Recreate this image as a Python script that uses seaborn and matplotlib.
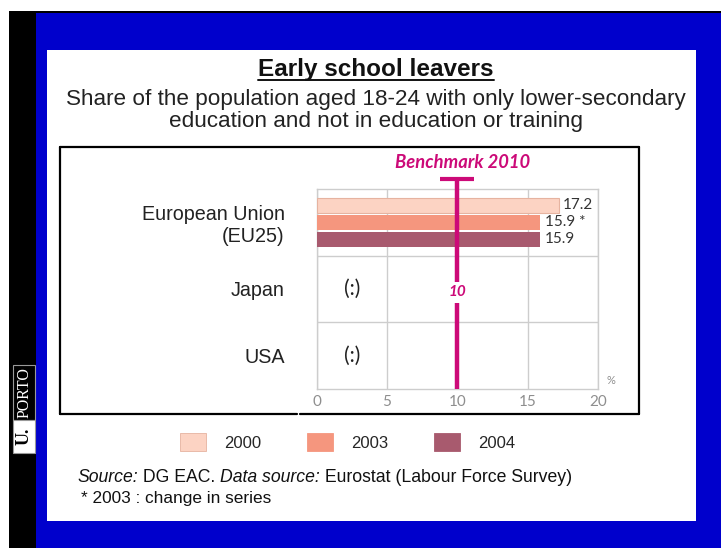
import numpy as np
import pandas as pd
import matplotlib
matplotlib.use("Agg")
import matplotlib.pyplot as plt
from matplotlib.patches import Rectangle, Patch
from matplotlib.lines import Line2D
import seaborn as sns

# ---- data -------------------------------------------------------------
regions = ["European Union\n(EU25)", "Japan", "USA"]
years = ["2000", "2003", "2004"]
eu_values = [17.2, 15.9, 15.9]
eu_value_labels = ["17.2", "15.9 *", "15.9"]
missing_regions = ["Japan", "USA"]
missing_label = "(:)"
benchmark_value = 10
benchmark_title = "Benchmark 2010"
x_ticks = [0, 5, 10, 15, 20]
year_colors = ["#FCD3C3", "#F5967E", "#A85A6E"]

title = "Early school leavers"
subtitle = ("Share of the population aged 18-24 with only lower-secondary\n"
            "education and not in education or training")
footnote = "* 2003 : change in series"

W, H = 721, 548
MAGENTA = "#CC0A78"
GRID = "#CDCDCD"

sns.set_theme(style="white")
plt.rcParams["font.family"] = ["Liberation Sans", "DejaVu Sans"]

fig = plt.figure(figsize=(W / 100, H / 100), dpi=100)
fig.patch.set_facecolor("white")


def fx(px):
    return px / W


def fy(py):
    return 1 - py / H


def frect(x0, y0, x1, y1, **kw):
    r = Rectangle((fx(x0), fy(y1)), fx(x1) - fx(x0), fy(y0) - fy(y1),
                  transform=fig.transFigure, **kw)
    fig.add_artist(r)
    return r


def fline(x0, y0, x1, y1, **kw):
    fig.add_artist(Line2D([fx(x0), fx(x1)], [fy(y0), fy(y1)],
                          transform=fig.transFigure, **kw))


# ---- slide frame ------------------------------------------------------
frect(9, 11, 36, 548, facecolor="black", edgecolor="none", zorder=-10)
frect(9, 11, 721, 13, facecolor="black", edgecolor="none", zorder=-10)
frect(36, 13, 721, 548, facecolor="#0000CC", edgecolor="none", zorder=-10)
frect(47, 50, 696, 521, facecolor="white", edgecolor="none", zorder=-9)

# University logo, written bottom to top
frect(13, 365, 35, 420, facecolor="black", edgecolor="#999999", lw=0.8, zorder=-8)
frect(13, 420, 35, 453, facecolor="white", edgecolor="#999999", lw=0.8, zorder=-8)
fig.text(fx(24.5), fy(392.5), "PORTO", rotation=90, ha="center", va="center",
         color="white", fontsize=11.5, family="Liberation Serif")
fig.text(fx(24.5), fy(436.5), "U.", rotation=90, ha="center", va="center",
         color="black", fontsize=13, fontweight="bold", family="Liberation Serif")

# chart box (bottom edge has a small break)
box = dict(color="black", lw=1.6)
fline(60, 147, 639, 147, **box)
fline(60, 147, 60, 414, **box)
fline(639, 147, 639, 414, **box)
fline(60, 414, 297, 414, **box)
fline(300, 414, 639, 414, **box)

# ---- headings ---------------------------------------------------------
t = fig.text(fx(376), fy(76), title, ha="center", va="baseline",
             fontsize=17.5, fontweight="bold", color="#111111")
fig.text(fx(376), fy(110.5), subtitle, ha="center", va="center",
         fontsize=16.2, color="#222222", linespacing=1.02)

# ---- bar chart --------------------------------------------------------
ax = fig.add_axes([fx(316.7), fy(389), fx(598) - fx(316.7), fy(189) - fy(389)])
ax.patch.set_alpha(0)

df = pd.DataFrame({"region": [regions[0]] * len(years),
                   "year": years,
                   "share": eu_values})
sns.barplot(data=df, y="region", x="share", hue="year", order=regions,
            hue_order=years, palette=year_colors, orient="h", width=0.76,
            saturation=1, linewidth=0, legend=False, ax=ax, zorder=3)

# small gaps between the stacked bars; outline the palest one
for i, cont in enumerate(ax.containers):
    for bar in cont:
        y0, h = bar.get_y(), bar.get_height()
        bar.set_y(y0 + 0.012)
        bar.set_height(h - 0.024)
        if i == 0:
            bar.set_edgecolor("#E6B3A0")
            bar.set_linewidth(0.8)
    ax.bar_label(cont, labels=[eu_value_labels[i]], padding=3, fontsize=11,
                 family="Lato", color="#333333")

ax.set_xlim(0, 20)
ax.set_ylim(2.5, -0.5)
ax.set_xticks(x_ticks)
ax.set_xticklabels([str(v) for v in x_ticks], family="Lato", fontsize=11,
                   color="#8E8E8E")
ax.set_yticks(range(len(regions)))
ax.set_yticklabels(regions, fontsize=14.2, color="#222222")
ax.tick_params(axis="y", length=0, pad=23)
ax.tick_params(axis="x", length=0, pad=4)
ax.set_xlabel("")
ax.set_ylabel("")

ax.set_yticks([0.5, 1.5], minor=True)
ax.tick_params(axis="y", which="minor", length=0)
ax.grid(True, which="minor", axis="y", color=GRID, lw=1, zorder=1)
ax.grid(True, which="major", axis="x", color=GRID, lw=1, zorder=1)
ax.grid(False, which="major", axis="y")
for side in ["left", "bottom", "top", "right"]:
    ax.spines[side].set_visible(True)
    ax.spines[side].set_color(GRID)
    ax.spines[side].set_linewidth(1)

ax.text(20.9, 2.37, "%", fontsize=8, color="#8E8E8E", ha="center", va="center",
        family="Lato")

for r in missing_regions:
    ax.text(2.5, regions.index(r), missing_label, ha="center", va="center",
            fontsize=15, family="Lato", color="#222222")

# benchmark marker
cap_top = -0.655
ax.plot([benchmark_value, benchmark_value], [2.5, cap_top], color=MAGENTA, lw=3.2,
        solid_capstyle="butt", clip_on=False, zorder=5)
ax.plot([benchmark_value - 1.2, benchmark_value + 1.2], [cap_top, cap_top],
        color=MAGENTA, lw=3.0, solid_capstyle="butt", clip_on=False, zorder=5)
ax.text(benchmark_value + 0.4, -0.905, benchmark_title, ha="center", va="center",
        color=MAGENTA, fontsize=13.2, fontstyle="italic", fontweight="bold",
        family="Lato", zorder=6)
ax.text(benchmark_value, 1.05, f"{benchmark_value:g}", ha="center", va="center",
        color=MAGENTA, fontsize=11, fontstyle="italic", fontweight="bold",
        family="Lato", zorder=6,
        bbox=dict(facecolor="white", edgecolor="none", pad=2.5))

# ---- legend -----------------------------------------------------------
handles = [Patch(facecolor=c, edgecolor=("#E6B3A0" if i == 0 else c), lw=0.6)
           for i, c in enumerate(year_colors)]
fig.legend(handles, years, loc="center left",
           bbox_to_anchor=(fx(180), fy(442)), ncol=3, frameon=False,
           fontsize=12, handlelength=1.56, handleheight=1.2,
           handletextpad=1.08, columnspacing=2.76, borderaxespad=0, borderpad=0)

# ---- title underline and source line with mixed italics ---------------
fig.canvas.draw()
renderer = fig.canvas.get_renderer()

bb = t.get_window_extent(renderer)
uy = fy(80)
fig.add_artist(Line2D([bb.x0 / W, bb.x1 / W], [uy, uy],
                      transform=fig.transFigure, color="#111111", lw=1.4))

pieces = [("Source:", "italic"), (" DG EAC. ", "normal"),
          ("Data source:", "italic"), (" Eurostat (Labour Force Survey)", "normal")]
x = fx(77)
for txt, style in pieces:
    tt = fig.text(x, fy(478), txt, ha="left", va="center", fontsize=12.7,
                  fontstyle=style, color="#111111")
    wb = tt.get_window_extent(renderer)
    x += wb.width / W
fig.text(fx(81), fy(499), footnote, ha="left", va="center", fontsize=12.4,
         color="#111111")

fig.savefig("out.png", dpi=100)
